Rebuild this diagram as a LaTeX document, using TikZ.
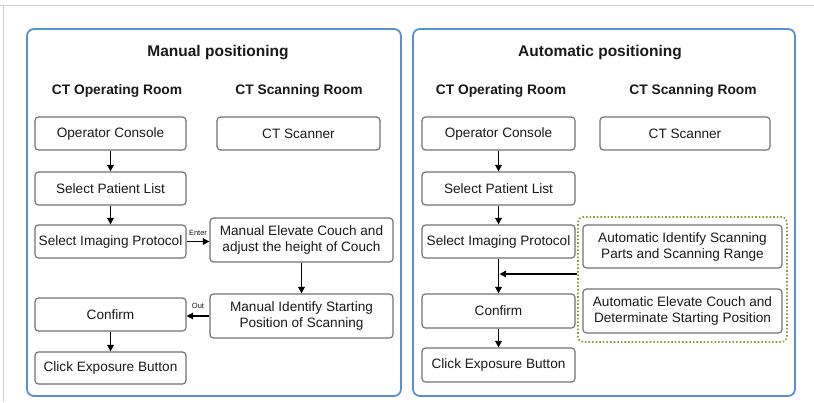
\documentclass[tikz,border=0pt]{standalone}
\usepackage{fontspec}
\setmainfont{Liberation Sans}
\usetikzlibrary{arrows.meta}
\definecolor{panelblue}{HTML}{5A8FD2}
\definecolor{boxgray}{HTML}{737373}
\definecolor{inkgray}{HTML}{1A1A1A}
\definecolor{framegray}{HTML}{CFCFCF}
\definecolor{olive}{HTML}{8E9C3A}
\tikzset{
  panel/.style={draw=panelblue, line width=1.8pt, rounded corners=7pt},
  stepbox/.style={draw=boxgray, line width=1.2pt, rounded corners=3.5pt, align=center,
    text=inkgray, inner sep=1pt, font=\fontsize{13.6}{16}\selectfont},
  ptitle/.style={text=inkgray, font=\fontsize{15.5}{18}\bfseries\selectfont},
  room/.style={text=inkgray, font=\fontsize{13.8}{16}\bfseries\selectfont},
  flow/.style={draw=black, line width=1.5pt, -{Triangle[length=6.5pt,width=6.5pt]}},
  tiny/.style={text=inkgray, font=\fontsize{7.5}{8}\selectfont, inner sep=0pt},
}
\begin{document}
\begin{tikzpicture}[x=1pt, y=-1pt]
\useasboundingbox (0,0) rectangle (814,402);
\fill[white] (0,0) rectangle (814,402);
% thin outer frame lines
\draw[framegray, line width=0.8pt] (0,5) -- (814,5);
\draw[framegray, line width=0.8pt] (3,5) -- (3,402);

% ---------------- Manual positioning ----------------
\draw[panel] (27,29) rectangle (401,396);
\node[ptitle] (t1) at (218,53) {Manual positioning};
\node[room] (ro1) at (117,91) {CT Operating Room};
\node[room] (rs1) at (299,91) {CT Scanning Room};

\node[stepbox, minimum width=151pt, minimum height=33pt] (opc1) at (110.5,133.5) {Operator Console};
\node[stepbox, minimum width=163pt, minimum height=33pt] (cts1) at (298.5,133.5) {CT Scanner};
\node[stepbox, minimum width=151pt, minimum height=33pt] (spl1) at (110.5,188.5) {Select Patient List};
\node[stepbox, minimum width=151pt, minimum height=33pt] (sip1) at (110.5,241.5) {Select Imaging Protocol};
\node[stepbox, minimum width=183pt, minimum height=44pt] (mec1) at (301.5,240) {Manual Elevate Couch and\\adjust the height of Couch};
\node[stepbox, minimum width=183pt, minimum height=44pt] (mis1) at (301.5,316) {Manual Identify Starting\\Position of Scanning};
\node[stepbox, minimum width=151pt, minimum height=33pt] (cnf1) at (110.5,314.5) {Confirm};
\node[stepbox, minimum width=151pt, minimum height=32pt] (ceb1) at (110.5,368) {Click Exposure Button};

\draw[flow] (opc1) -- (spl1);
\draw[flow] (spl1) -- (sip1);
\draw[flow] (sip1.east) -- (mec1.west |- sip1.east) node[tiny, midway, above=5pt] (ent) {Enter};
\draw[flow] (mec1) -- (mis1);
\draw[flow] (mis1.west) -- (cnf1.east |- mis1.west) node[tiny, midway, above=7pt] (out) {Out};
\draw[flow] (cnf1) -- (ceb1);

% ---------------- Automatic positioning ----------------
\draw[panel] (413,29) rectangle (795,396);
\node[ptitle] (t2) at (600,53) {Automatic positioning};
\node[room] (ro2) at (501,91) {CT Operating Room};
\node[room] (rs2) at (693,91) {CT Scanning Room};

\node[stepbox, minimum width=153pt, minimum height=33pt] (opc2) at (498.5,133.5) {Operator Console};
\node[stepbox, minimum width=170pt, minimum height=33pt] (cts2) at (685,133.5) {CT Scanner};
\node[stepbox, minimum width=153pt, minimum height=33pt] (spl2) at (498.5,188.5) {Select Patient List};
\node[stepbox, minimum width=153pt, minimum height=33pt] (sip2) at (498.5,241.5) {Select Imaging Protocol};
\node[stepbox, minimum width=153pt, minimum height=34pt] (cnf2) at (498.5,311) {Confirm};
\node[stepbox, minimum width=153pt, minimum height=34pt] (ceb2) at (498.5,365) {Click Exposure Button};

\node[draw=olive, line width=1.6pt, dotted, rounded corners=5pt,
      minimum width=209pt, minimum height=125pt, inner sep=0pt] (grp) at (682.5,279.5) {};
\node[stepbox, minimum width=199pt, minimum height=43pt] (aid2) at (682.5,246.5) {Automatic Identify Scanning\\Parts and Scanning Range};
\node[stepbox, minimum width=199pt, minimum height=44pt] (aec2) at (682.5,311) {Automatic Elevate Couch and\\Determinate Starting Position};

\draw[flow] (opc2) -- (spl2);
\draw[flow] (spl2) -- (sip2);
\draw[flow] (sip2) -- (cnf2);
\coordinate (join) at (499.5,274);
\draw[flow] (grp.west |- join) -- (join);
\draw[flow] (cnf2) -- (ceb2);
\end{tikzpicture}
\end{document}
